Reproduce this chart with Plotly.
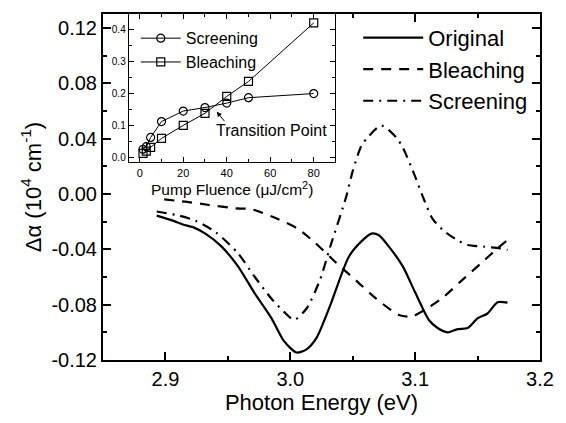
import plotly.graph_objects as go

FONT = "Arial, Liberation Sans, sans-serif"

# Main panel data (photon energy eV, delta alpha 10^4 cm^-1)
orig_e = [2.893, 2.906, 2.914, 2.922, 2.932, 2.945, 2.958, 2.971, 2.985, 2.995, 3.005,
          3.013, 3.021, 3.032, 3.047, 3.058, 3.065, 3.071, 3.079, 3.090, 3.100, 3.111,
          3.118, 3.126, 3.134, 3.142, 3.150, 3.158, 3.166, 3.174]
orig_v = [-0.0157, -0.0193, -0.0221, -0.0240, -0.0287, -0.0381, -0.0522, -0.0711, -0.0899,
          -0.1064, -0.1146, -0.1123, -0.1040, -0.0805, -0.0452, -0.0334, -0.0287, -0.0299,
          -0.0381, -0.0522, -0.0711, -0.0911, -0.0969, -0.1000, -0.0977, -0.0969, -0.0899,
          -0.0864, -0.0782, -0.0786]

bleach_e = [2.899, 2.916, 2.935, 2.956, 2.969, 2.990, 3.006, 3.019, 3.037, 3.053, 3.069,
            3.087, 3.097, 3.105, 3.121, 3.137, 3.153, 3.166, 3.174]
bleach_v = [-0.0040, -0.0056, -0.0080, -0.0104, -0.0111, -0.0181, -0.0252, -0.0346, -0.0499,
            -0.0628, -0.0758, -0.0875, -0.0887, -0.0852, -0.0758, -0.0628, -0.0499, -0.0393,
            -0.0334]

screen_e = [2.893, 2.911, 2.924, 2.940, 2.958, 2.971, 2.985, 2.995, 3.003, 3.013, 3.024,
            3.032, 3.045, 3.050, 3.057, 3.063, 3.073, 3.085, 3.090, 3.099, 3.106,
            3.114, 3.124, 3.135, 3.142, 3.155, 3.168, 3.174]
screen_v = [-0.0127, -0.0157, -0.0193, -0.0275, -0.0428, -0.0593, -0.0758, -0.0852, -0.0910,
            -0.0828, -0.0616, -0.0381, -0.0014, 0.0165, 0.0348, 0.0419, 0.0494,
            0.0407, 0.0337, 0.0148, -0.0016, -0.0180, -0.0275, -0.0340, -0.0369, -0.0381,
            -0.0393, -0.0405]

# Inset data (pump fluence uJ/cm^2)
fluence = [1.5, 3, 5, 10, 20, 30, 40, 50, 80]
inset_screen = [0.025, 0.033, 0.062, 0.112, 0.145, 0.156, 0.170, 0.187, 0.200]
inset_bleach = [0.012, 0.019, 0.031, 0.059, 0.100, 0.138, 0.191, 0.238, 0.422]

y_ticks = [-0.12, -0.08, -0.04, 0.00, 0.04, 0.08, 0.12]
y_ticktext = ["-0.12", "-0.08", "-0.04", "0.00", "0.04", "0.08", "0.12"]

fig = go.Figure()

fig.add_trace(go.Scatter(x=orig_e, y=orig_v, mode="lines", name="Original",
                         line=dict(color="black", width=2.2, shape="spline", smoothing=0.7),
                         legend="legend"))
fig.add_trace(go.Scatter(x=bleach_e, y=bleach_v, mode="lines", name="Bleaching",
                         line=dict(color="black", width=2.2, dash="10px,8px",
                                   shape="spline", smoothing=0.7), legend="legend"))
fig.add_trace(go.Scatter(x=screen_e, y=screen_v, mode="lines", name="Screening",
                         line=dict(color="black", width=2.2, dash="10px,6px,2px,6px",
                                   shape="spline", smoothing=0.7),
                         legend="legend"))

fig.add_trace(go.Scatter(x=fluence, y=inset_screen, mode="lines+markers", name="Screening",
                         xaxis="x2", yaxis="y2", legend="legend2",
                         line=dict(color="black", width=1),
                         marker=dict(symbol="circle-open", size=8, color="black",
                                     line=dict(width=1.2, color="black"))))
fig.add_trace(go.Scatter(x=fluence, y=inset_bleach, mode="lines+markers", name="Bleaching",
                         xaxis="x2", yaxis="y2", legend="legend2",
                         line=dict(color="black", width=1),
                         marker=dict(symbol="square-open", size=8, color="black",
                                     line=dict(width=1.2, color="black"))))

axis_common = dict(showline=True, linecolor="black", linewidth=2, mirror="ticks",
                   ticks="inside", tickcolor="black", showgrid=False, zeroline=False)

pl, pr, pt, pb = 103, 19, 13, 57
pw, ph = 566 - pl - pr, 423 - pt - pb

fig.update_layout(
    width=566, height=423,
    margin=dict(l=pl, r=pr, t=pt, b=pb),
    paper_bgcolor="white", plot_bgcolor="white",
    font=dict(family=FONT, color="black"),
    xaxis=dict(range=[2.85, 3.2], tickmode="linear", tick0=2.9, dtick=0.1, tickformat=".1f",
               ticklen=8, tickwidth=1.5,
               minor=dict(tickmode="linear", tick0=2.85, dtick=0.05, ticklen=4,
                          tickwidth=1.5, ticks="inside", tickcolor="black"),
               tickfont=dict(size=20),
               title=dict(text="Photon Energy (eV)", font=dict(size=22), standoff=6),
               **axis_common),
    yaxis=dict(range=[-0.12, 0.13], tickmode="array", tickvals=y_ticks, ticktext=y_ticktext,
               ticklen=8, tickwidth=1.5,
               minor=dict(tickmode="linear", tick0=-0.12, dtick=0.02, ticklen=4,
                          tickwidth=1.5, ticks="inside", tickcolor="black"),
               tickfont=dict(size=20),
               title=dict(text="Δα (10<sup>4</sup> cm<sup>-1</sup>)", font=dict(size=22),
                          standoff=4),
               **axis_common),
    xaxis2=dict(domain=[0.0592, 0.532], anchor="y2", range=[-5, 90], tickmode="linear",
                tick0=0, dtick=20, ticklen=5, tickwidth=1,
                minor=dict(tickmode="linear", tick0=0, dtick=10, ticklen=3, tickwidth=1,
                           ticks="inside", tickcolor="black"),
                tickfont=dict(size=11),
                title=dict(text="Pump Fluence (μJ/cm<sup>2</sup>)", font=dict(size=15.5),
                           standoff=4),
                showline=True, linecolor="black", linewidth=1.3, mirror="ticks",
                ticks="inside", tickcolor="black", showgrid=False, zeroline=False),
    yaxis2=dict(domain=[0.5714, 1.0], anchor="x2", range=[-0.016, 0.45], tickmode="linear",
                tick0=0, dtick=0.1, tickformat=".1f", ticklen=5, tickwidth=1,
                minor=dict(tickmode="linear", tick0=0, dtick=0.05, ticklen=3, tickwidth=1,
                           ticks="inside", tickcolor="black"),
                tickfont=dict(size=10),
                showline=True, linecolor="black", linewidth=1.3, mirror="ticks",
                ticks="inside", tickcolor="black", showgrid=False, zeroline=False),
    legend=dict(x=0.584, y=0.992, xanchor="left", yanchor="top", bgcolor="rgba(0,0,0,0)",
                font=dict(size=22), itemwidth=60, tracegroupgap=0),
    legend2=dict(x=0.075, y=0.979, xanchor="left", yanchor="top", bgcolor="rgba(0,0,0,0)",
                 font=dict(size=16), itemwidth=40, tracegroupgap=0),
    annotations=[
        dict(x=35.4, y=0.143, xref="x2", yref="y2", text="", showarrow=True,
             ax=9, ay=11, arrowhead=2, arrowsize=1, arrowwidth=1, arrowcolor="black"),
        dict(x=(274 - pl) / pw, y=(423 - pb - 131.7) / ph, xref="paper", yref="paper",
             text="Transition Point", showarrow=False, font=dict(size=16)),
    ],
)

fig.write_html("out.html")
